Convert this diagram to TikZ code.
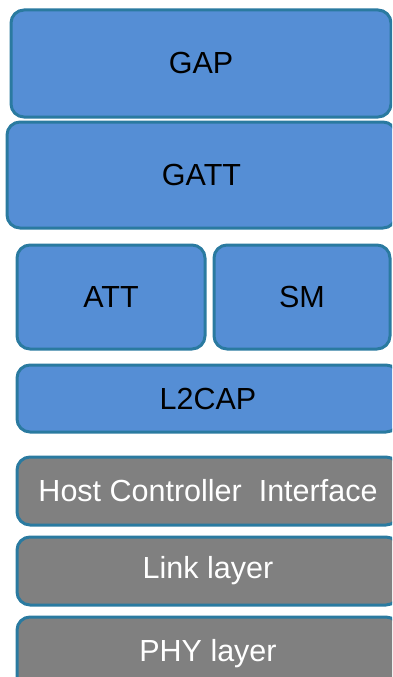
\documentclass[tikz,border=0pt]{standalone}
\usepackage{fontspec}
\setmainfont{Liberation Sans}
\definecolor{layerblue}{RGB}{85,142,213}
\definecolor{layergray}{RGB}{128,128,128}
\definecolor{layeredge}{RGB}{42,122,160}
\begin{document}
\begin{tikzpicture}[x=1pt,y=1pt,yscale=-1,xscale=1,
  layer/.style={draw=layeredge,line width=3,rounded corners=13,anchor=north west,
    inner sep=0,outer sep=0,font=\fontsize{30.5}{32}\selectfont},
  hostlayer/.style={layer,fill=layerblue,text=black},
  ctrllayer/.style={layer,fill=layergray,text=white}]
\useasboundingbox (0,0) rectangle (392,677);
\clip (0,0) rectangle (392,677);

%Host: GAP and GATT
\node [hostlayer,minimum width=380,minimum height=107] (gap) at (11,10) {GAP};
\node [hostlayer,minimum width=389,minimum height=106] (gatt) at (7,122) {GATT};

%Host: ATT, SM
\node [hostlayer,minimum width=188,minimum height=104] (att) at (17,245) {ATT};
\node [hostlayer,minimum width=176,minimum height=104] (sm) at (214,245) {SM};

%Host: L2CAP
\node [hostlayer,minimum width=382,minimum height=67] (l2cap) at (17,365) {L2CAP};

%Controller layers
\node [ctrllayer,minimum width=382,minimum height=68] (hci) at (17,457) {Host Controller\ \ Interface};
\node [ctrllayer,minimum width=382,minimum height=68] (ll) at (17,537) {Link layer};
\node [ctrllayer,minimum width=382,minimum height=73] (phy) at (17,617) {PHY layer};

\end{tikzpicture}
\end{document}
